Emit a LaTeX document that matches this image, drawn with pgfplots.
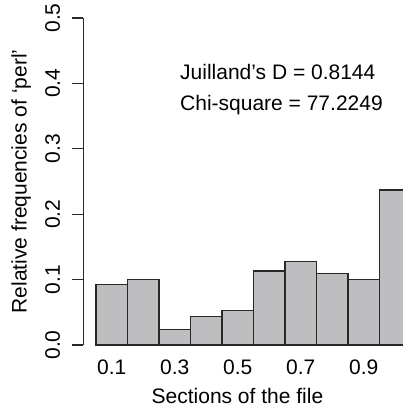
\documentclass[border=0pt]{standalone}
\usepackage{fontspec}
\setmainfont{Liberation Sans}
\usepackage{pgfplots}
\pgfplotsset{compat=1.18}

\definecolor{barfill}{RGB}{190,190,192}
\definecolor{ink}{RGB}{40,40,40}

\begin{document}
\fontsize{21bp}{25bp}\selectfont
\begin{tikzpicture}
\begin{axis}[
    at={(83.4bp,-345bp)}, anchor=south west,
    scale only axis,
    width=319.6bp, height=327bp,
    xmin=0.1, xmax=10.246,
    ymin=0, ymax=0.5,
    clip=false,
    axis lines*=left,
    x axis line style={draw=none},
    y axis line style={ink, line width=1.3bp},
    tick align=outside,
    major tick length=11bp,
    major x tick style={draw=none},
    major y tick style={ink, line width=1.3bp},
    xtick={1,3,5,7,9},
    xticklabels={0.1,0.3,0.5,0.7,0.9},
    ytick={0,0.1,0.2,0.3,0.4,0.5},
    yticklabels={0.0,0.1,0.2,0.3,0.4,0.5},
    yticklabel style={rotate=90, anchor=south, inner sep=0pt},
    yticklabel shift=12bp,
    xticklabel style={anchor=north, inner sep=0pt},
    xticklabel shift=4bp,
    xlabel={Sections of the file},
    xlabel style={at={(axis description cs:0.482,-0.1774)}, anchor=base, inner sep=0pt},
    ylabel={Relative frequencies of ‘perl’},
    ylabel style={at={(axis description cs:-0.1774,0.5)}, anchor=base, inner sep=0pt},
]
\addplot[ybar, bar width=1, fill=barfill, draw=ink, line width=1.3bp] coordinates {
    (1,0.093) (2,0.100) (3,0.024) (4,0.044) (5,0.053)
    (6,0.113) (7,0.128) (8,0.109) (9,0.100) (10,0.237)
};
\node[anchor=base west, inner sep=0pt] at (axis cs:3.167,0.4067) {Juilland’s D = 0.8144};
\node[anchor=base west, inner sep=0pt] at (axis cs:3.167,0.3593) {Chi-square = 77.2249};
\end{axis}
\pgfresetboundingbox
\useasboundingbox (0,0) rectangle (403bp,-410bp);
\end{tikzpicture}
\end{document}
